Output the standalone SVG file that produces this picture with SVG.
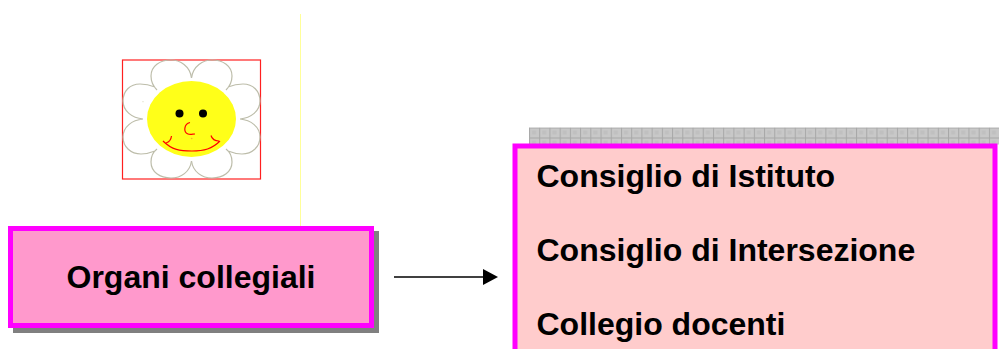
<svg xmlns="http://www.w3.org/2000/svg" xmlns:xlink="http://www.w3.org/1999/xlink" width="999" height="349" viewBox="0 0 999 349">
<style>
text{font-family:"Liberation Sans",Arial,sans-serif;font-weight:bold;font-size:32px;fill:#000}
.petal{fill:none;stroke:#bdbdaa;stroke-width:1.2}
.red{fill:none;stroke:#ff0000;stroke-width:1.2}
.box{stroke:#ff00ff;stroke-width:5}
</style>
<defs>
<pattern id="band" patternUnits="userSpaceOnUse" x="529" y="127.5" width="10.22" height="10">
<rect width="10.22" height="10" fill="#c8c8c8"/>
<rect x="3" y="3" width="4" height="4" fill="#c0c0c0"/>
<rect x="0" y="0" width="10.22" height="1" fill="#a8a8a8"/>
<rect x="0" y="0" width="1" height="10" fill="#a8a8a8"/>
</pattern>
<marker id="arrow" markerUnits="userSpaceOnUse" markerWidth="15" markerHeight="16" refX="0" refY="8" orient="auto">
<path d="M0 0L15 8L0 16Z" fill="#000"/>
</marker>
<path id="petals" d="M191.5 78C190 66 180 60 171 60C160 60 151 66 151 76C151 82 153 86 157 90M155 87C150 85 145 84 140 84C130 84 123 91 123 101C123 111 132 118 143 119C132 120 123 127 123 137C123 147 131 154 141 154C146 154 150 153 155 151M157 149C153 152 151 157 151 162C151 172 160 178 171 178C181 178 190 172 191.5 161"/>
</defs>
<rect width="999" height="349" fill="#fff"/>
<g id="flower">
<rect x="122.5" y="60" width="138" height="119" fill="#fff" stroke="#ff2020" stroke-width="1.2"/>
<use xlink:href="#petals" href="#petals" class="petal"/>
<use xlink:href="#petals" href="#petals" class="petal" transform="matrix(-1 0 0 1 383 0)"/>
<ellipse cx="191.5" cy="119" rx="44.5" ry="38" fill="#ffff19"/>
<circle cx="179.5" cy="113.5" r="4" fill="#000"/>
<circle cx="203" cy="113.5" r="4" fill="#000"/>
<path class="red" d="M190 122.5C184 124 183 132 188 134C190 135 193 134 195 134"/>
<path class="red" d="M163 141C172 150 180 151 192 151C204 151 212 149 220 141M171.5 136C171 140 169 142 166 143M211 135.5C212 139 215 141 219 141"/>
<circle cx="191.7" cy="138.5" r="0.8" fill="#f5b030"/>
<circle cx="143" cy="101.7" r="0.6" fill="#d8d8c0"/>
</g>
<g id="connectors">
<line x1="300.5" y1="14" x2="300.5" y2="227" stroke="#ffff99" stroke-width="1"/>
<line x1="394" y1="277" x2="483" y2="277" stroke="#000" stroke-width="1.5" marker-end="url(#arrow)"/>
</g>
<g id="organi-collegiali">
<rect x="13" y="231" width="366" height="102" fill="#808080"/>
<rect x="10.5" y="228.5" width="361" height="97" fill="#ff99cc" class="box"/>
<text x="191" y="288" text-anchor="middle">Organi collegiali</text>
</g>
<g id="elenco">
<rect x="529" y="127.5" width="470" height="17" fill="url(#band)"/>
<rect x="515" y="146" width="480" height="220" fill="#ffcccc" class="box"/>
<text x="536.5" y="187">Consiglio di Istituto</text>
<text x="536.5" y="261">Consiglio di Intersezione</text>
<text x="536.5" y="335">Collegio docenti</text>
</g>
</svg>
